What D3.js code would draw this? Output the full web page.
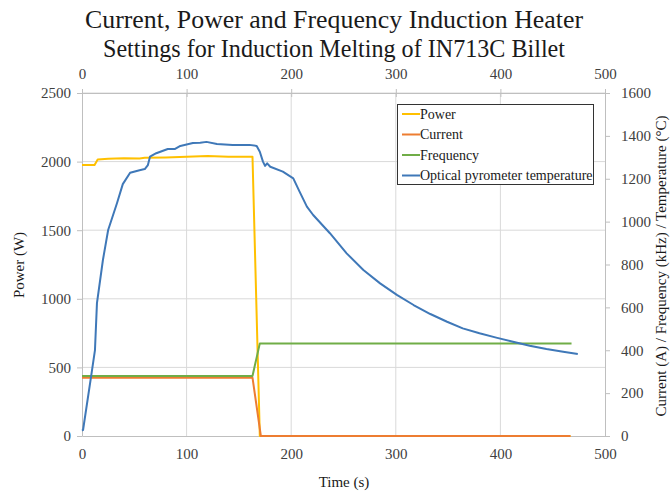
<!DOCTYPE html>
<html>
<head>
<meta charset="utf-8">
<script src="https://cdn.jsdelivr.net/npm/d3@7"></script>
<style>
body { margin: 0; padding: 0; background: #fff; overflow: hidden; }
text { font-family: "Liberation Serif", "Times New Roman", serif; }
</style>
</head>
<body>
<script>
// values
const timeTicks = [0, 100, 200, 300, 400, 500];
const powerTicks = [0, 500, 1000, 1500, 2000, 2500];
const rightTicks = [0, 200, 400, 600, 800, 1000, 1200, 1400, 1600];

const powerTime = [0, 12, 15, 25, 40, 55, 60, 80, 100, 120, 140, 163, 170, 467];
const powerW = [1975, 1975, 2015, 2020, 2025, 2022, 2028, 2030, 2035, 2040, 2035, 2035, 0, 0];

const currentTime = [0, 163, 171, 467];
const currentA = [272, 272, 0, 0];

const freqTime = [0, 163, 170, 468];
const freqKHz = [280, 280, 432, 432];

const tempTime = [0, 1, 8.6, 12.4, 14.3, 20, 25, 33.5, 39, 46, 55, 60, 63, 65, 71, 82, 89, 94, 106, 113, 119,
  129, 144, 160, 167, 170, 173, 175, 177, 180, 192, 202, 208, 215, 221, 237, 253, 269, 285, 301, 317,
  333, 349, 364, 380, 396, 412, 428, 444, 460, 474];
const tempC = [25, 28, 275, 401, 620, 821, 961, 1087, 1175, 1228, 1240, 1245, 1264, 1303, 1319, 1339, 1339, 1353, 1367, 1368, 1372,
  1362, 1358, 1358, 1353, 1326, 1280, 1260, 1272, 1256, 1233, 1202, 1140, 1070, 1031, 946, 852, 774, 712, 658, 611,
  569, 533, 502, 479, 459, 440, 421, 406, 393, 383];

const seriesNames = ["Power", "Current", "Frequency", "Optical pyrometer temperature"];
const seriesColors = ["#ffc000", "#ed7d31", "#70ad47", "#3f78b8"];

const W = 670, H = 493;
const plotL = 82, plotR = 605, plotT = 93, plotB = 436;

const svg = d3.select("body").append("svg").attr("width", W).attr("height", H);

const x = d3.scaleLinear().domain([0, 500]).range([plotL, plotR]);
const yL = d3.scaleLinear().domain([0, 2500]).range([plotB, plotT]);
const yR = d3.scaleLinear().domain([0, 1600]).range([plotB, plotT]);
const fmt = d3.format("d");

// gridlines
svg.append("g").selectAll("line").data(powerTicks.slice(1)).join("line")
  .attr("x1", plotL).attr("x2", plotR)
  .attr("y1", d => yL(d)).attr("y2", d => yL(d))
  .attr("stroke", "#d9d9d9").attr("stroke-width", 1);
svg.append("g").selectAll("line").data(timeTicks.slice(1, -1)).join("line")
  .attr("x1", d => x(d)).attr("x2", d => x(d))
  .attr("y1", plotT).attr("y2", plotB)
  .attr("stroke", "#d9d9d9").attr("stroke-width", 1);

function styleAxis(g) {
  g.select(".domain").attr("stroke", "#bfbfbf");
  g.selectAll(".tick line").attr("stroke", "#bfbfbf");
  g.selectAll(".tick text").attr("fill", "#404040")
    .style("font-family", "Liberation Serif, serif").style("font-size", "15px");
}

const xBottom = svg.append("g").attr("transform", `translate(0,${plotB})`)
  .call(d3.axisBottom(x).tickValues(timeTicks).tickFormat(fmt).tickSize(0).tickPadding(12).tickSizeOuter(0));
styleAxis(xBottom);

const xTop = svg.append("g").attr("transform", `translate(0,${plotT})`)
  .call(d3.axisTop(x).tickValues(timeTicks).tickFormat(fmt).tickSize(4).tickPadding(10).tickSizeOuter(0));
xTop.selectAll(".tick line").attr("y2", 4).attr("y1", -4);
styleAxis(xTop);

const yLeft = svg.append("g").attr("transform", `translate(${plotL},0)`)
  .call(d3.axisLeft(yL).tickValues(powerTicks).tickFormat(fmt).tickSize(5).tickPadding(6).tickSizeOuter(0));
styleAxis(yLeft);

const yRight = svg.append("g").attr("transform", `translate(${plotR},0)`)
  .call(d3.axisRight(yR).tickValues(rightTicks).tickFormat(fmt).tickSize(5).tickPadding(11).tickSizeOuter(0));
styleAxis(yRight);

// series
const lineL = d3.line().x(d => x(d[0])).y(d => yL(d[1]));
const lineR = d3.line().x(d => x(d[0])).y(d => yR(d[1]));

const data = [
  { pts: d3.zip(powerTime, powerW), gen: lineL },
  { pts: d3.zip(currentTime, currentA), gen: lineR },
  { pts: d3.zip(freqTime, freqKHz), gen: lineR },
  { pts: d3.zip(tempTime, tempC), gen: lineR }
];

svg.append("g").selectAll("path").data(data).join("path")
  .attr("d", d => d.gen(d.pts))
  .attr("fill", "none")
  .attr("stroke", (d, i) => seriesColors[i])
  .attr("stroke-width", 2)
  .attr("stroke-linejoin", "round");

// title
const title = svg.append("text").attr("text-anchor", "middle")
  .attr("fill", "#1a1a1a").style("font-size", "25px");
title.append("tspan").attr("x", 334).attr("y", 28)
  .attr("textLength", 498).attr("lengthAdjust", "spacingAndGlyphs")
  .text("Current, Power and Frequency Induction Heater");
title.append("tspan").attr("x", 334).attr("y", 57)
  .attr("textLength", 462).attr("lengthAdjust", "spacingAndGlyphs")
  .text("Settings for Induction Melting of IN713C Billet");

// axis titles
svg.append("text").attr("x", 344).attr("y", 487).attr("text-anchor", "middle")
  .attr("fill", "#1a1a1a").style("font-size", "15px").text("Time (s)");
svg.append("text").attr("transform", "translate(24,265) rotate(-90)").attr("text-anchor", "middle")
  .attr("fill", "#1a1a1a").style("font-size", "15px").text("Power (W)");
svg.append("text").attr("transform", "translate(666,266) rotate(-90)").attr("text-anchor", "middle")
  .attr("fill", "#1a1a1a").style("font-size", "15px").text("Current (A) / Frequency (kHz) / Temperature (°C)");

// legend
const lg = svg.append("g");
lg.append("rect").attr("x", 397.5).attr("y", 104.5).attr("width", 196).attr("height", 80)
  .attr("fill", "#fff").attr("stroke", "#333").attr("stroke-width", 1);
const rows = lg.selectAll("g").data(seriesNames).join("g")
  .attr("transform", (d, i) => `translate(0,${114 + i * 20.5})`);
rows.append("line").attr("x1", 402).attr("x2", 420).attr("y1", 0).attr("y2", 0)
  .attr("stroke", (d, i) => seriesColors[i]).attr("stroke-width", 2);
rows.append("text").attr("x", 420).attr("y", 4.5).attr("fill", "#1a1a1a")
  .style("font-size", "14px").text(d => d);
</script>
</body>
</html>
